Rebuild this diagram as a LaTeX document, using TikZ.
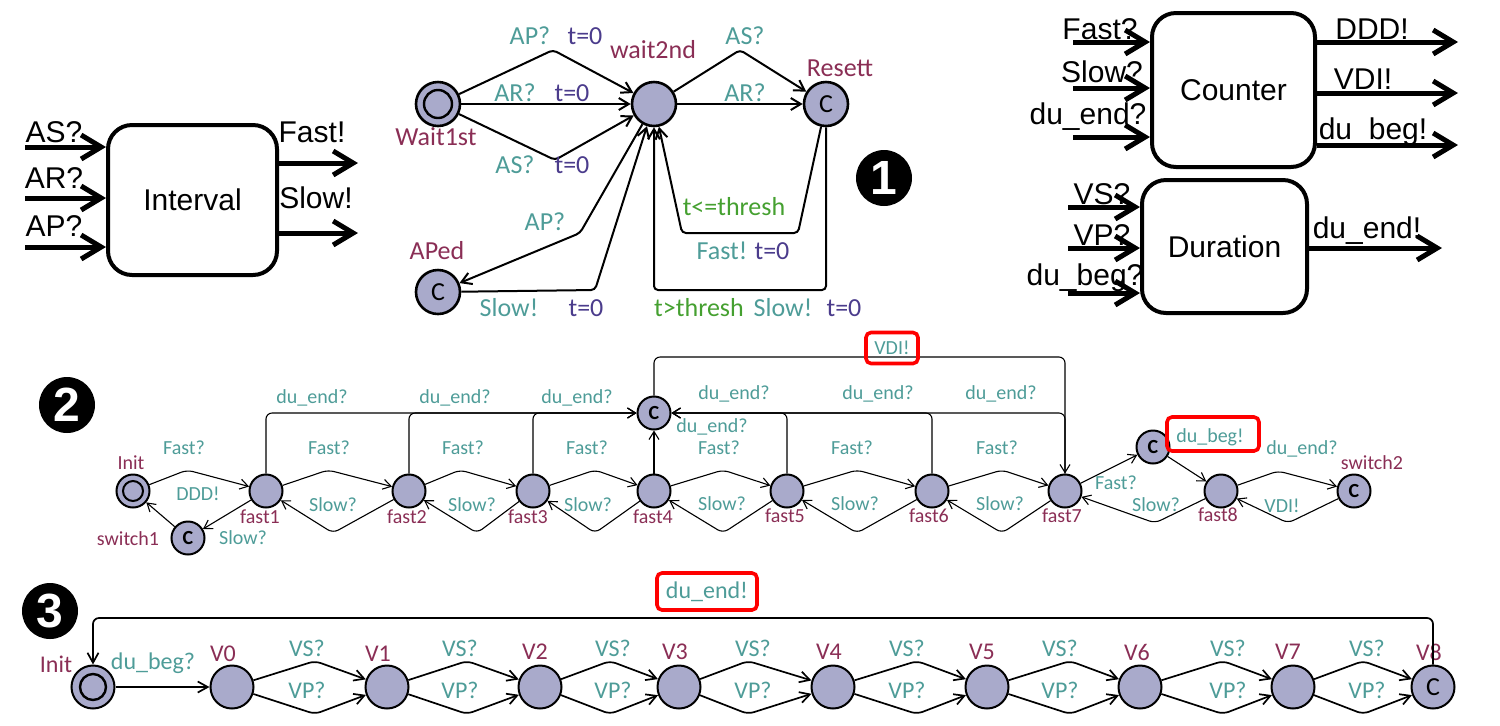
\documentclass[tikz,border=0pt]{standalone}
\usepackage{fontspec}
\setmainfont{Liberation Sans}
\newfontfamily\up{Carlito}
\usetikzlibrary{arrows.meta}
\definecolor{cLoc}{HTML}{A9AACB}
\definecolor{cName}{HTML}{8A2E55}
\definecolor{cSync}{HTML}{4E9C98}
\definecolor{cAssign}{HTML}{4B3C8C}
\definecolor{cGuard}{HTML}{45A030}
\definecolor{cRed}{HTML}{FF0000}
\begin{document}
\begin{tikzpicture}[x=0.5pt,y=-0.5pt,
  blk/.style={draw, line width=2pt, rounded corners=12pt, inner sep=0pt, font=\fontsize{15}{15}\selectfont},
  blkt/.style={font=\fontsize{15}{15}\selectfont, inner sep=0pt},
  barr/.style={line width=2.5pt, -{Straight Barb[length=10pt,width=12pt]}},
  numc/.style={circle, fill=black, minimum size=28pt, inner sep=0pt, text=white, font=\bfseries\fontsize{24}{24}\selectfont},
  loc1/.style={circle, draw, fill=cLoc, line width=1.3pt, minimum size=22pt, inner sep=0pt, font=\up\fontsize{13}{13}\selectfont},
  ini1/.style={loc1, path picture={\draw[line width=1.2pt] (path picture bounding box.center) circle (7pt);}},
  loc2/.style={circle, draw, fill=cLoc, line width=1pt, minimum size=16.5pt, inner sep=0pt, font=\up\bfseries\fontsize{10}{10}\selectfont},
  ini2/.style={loc2, path picture={\draw[line width=1pt] (path picture bounding box.center) circle (5pt);}},
  loc3/.style={circle, draw, fill=cLoc, line width=1pt, minimum size=21.5pt, inner sep=0pt, font=\up\fontsize{13}{13}\selectfont},
  ini3/.style={loc3, path picture={\draw[line width=1.2pt] (path picture bounding box.center) circle (6.5pt);}},
  e1/.style={line width=1pt, rounded corners=2pt, -{Straight Barb[length=5pt,width=6pt]}},
  e2/.style={line width=0.55pt, rounded corners=3pt, -{Straight Barb[length=4pt,width=5pt]}},
  e3/.style={line width=0.85pt, rounded corners=3pt, -{Straight Barb[length=5pt,width=5.5pt]}},
  l1/.style={font=\up\fontsize{13}{13}\selectfont, inner sep=0pt},
  l2/.style={font=\up\fontsize{10}{10}\selectfont, inner sep=0pt},
  l3/.style={font=\up\fontsize{12}{12}\selectfont, inner sep=0pt},
  sy/.style={text=cSync}, nm/.style={text=cName}, asg/.style={text=cAssign}, gd/.style={text=cGuard},
  redbox/.style={draw=cRed, line width=1.8pt, rounded corners=2.5pt, inner sep=0pt}
]
\useasboundingbox (0,0) rectangle (1500,725);

% ================= Block: Interval =================
\node[blk, minimum width=84.5pt, minimum height=75pt] (ib) at (192.5,200) {Interval};
\node[blkt] (ibl1) at (54,132) {AS?};
\node[blkt] (ibl2) at (54,178) {AR?};
\node[blkt] (ibl3) at (54,226) {AP?};
\node[blkt] (ibl4) at (312,132) {Fast!};
\node[blkt] (ibl5) at (316,198) {Slow!};
\coordinate (ia1) at (25,147);
\coordinate (ia2) at (25,198);
\coordinate (ia3) at (25,247);
\coordinate (io1) at (358,163);
\coordinate (io2) at (358,233);
\draw[barr] (ia1) -- (ia1 -| ib.west);
\draw[barr] (ia2) -- (ia2 -| ib.west);
\draw[barr] (ia3) -- (ia3 -| ib.west);
\draw[barr] (io1 -| ib.east) -- (io1);
\draw[barr] (io2 -| ib.east) -- (io2);

% ================= Block: Counter =================
\node[blk, minimum width=81.5pt, minimum height=77pt] (cb) at (1233.5,90) {Counter};
\node[blkt] (cbl1) at (1100,29) {Fast?};
\node[blkt] (cbl2) at (1102,72) {Slow?};
\node[blkt] (cbl3) at (1088,117) {du\_end?};
\node[blkt] (cbl4) at (1372,29) {DDD!};
\node[blkt] (cbl5) at (1363,79) {VDI!};
\node[blkt] (cbl6) at (1373,132) {du\_beg!};
\coordinate (ca1) at (1073,42);
\coordinate (ca2) at (1073,88);
\coordinate (ca3) at (1073,137);
\coordinate (co1) at (1458,42);
\coordinate (co2) at (1458,93);
\coordinate (co3) at (1458,145);
\draw[barr] (ca1) -- (ca1 -| cb.west);
\draw[barr] (ca2) -- (ca2 -| cb.west);
\draw[barr] (ca3) -- (ca3 -| cb.west);
\draw[barr] (co1 -| cb.east) -- (co1);
\draw[barr] (co2 -| cb.east) -- (co2);
\draw[barr] (co3 -| cb.east) -- (co3);

% ================= Block: Duration =================
\node[blk, minimum width=82.5pt, minimum height=66.5pt] (db) at (1224.5,246.5) {Duration};
\node[blkt] (dbl1) at (1102,194) {VS?};
\node[blkt] (dbl2) at (1102,235) {VP?};
\node[blkt] (dbl3) at (1085,278) {du\_beg?};
\node[blkt] (dbl4) at (1367,231) {du\_end!};
\coordinate (da1) at (1068,207);
\coordinate (da2) at (1068,248);
\coordinate (da3) at (1068,293);
\coordinate (do1) at (1442,248);
\draw[barr] (da1) -- (da1 -| db.west);
\draw[barr] (da2) -- (da2 -| db.west);
\draw[barr] (da3) -- (da3 -| db.west);
\draw[barr] (do1 -| db.east) -- (do1);

% ================= Numbers =================
\node[numc] (n1) at (884,178) {1};
\node[numc] (n2) at (67,405) {2};
\node[numc] (n3) at (50,611) {3};

% ================= Automaton 1 =================
\node[ini1] (w1) at (438,104) {};
\node[loc1] (w2) at (654,104) {};
\node[loc1] (res) at (826,104) {C};
\node[loc1] (aped) at (438,292) {C};
\node[l1,nm] (w1n) at (436,137) {Wait1st};
\node[l1,nm] (w2n) at (653,50) {wait2nd};
\node[l1,nm] (resn) at (840,68) {Resett};
\node[l1,nm] (apedn) at (437,251) {APed};

\draw[e1] (w1) -- (553,50) -- (w2);
\draw[e1] (w1) -- (w2);
\draw[e1] (w1) -- (555,160) -- (w2);
\draw[e1] (w2) -- (740,50) -- (res);
\draw[e1] (w2) -- (res);
\draw[e1] (res) -- (798,233) -- (682,233) -- (w2);
\draw[e1] (res) -- (826,290) -- (654,290) -- (w2);
\draw[e1] (w2) -- (580,233) -- (aped);
\draw[e1] (aped) -- (595,290) -- (w2);

\node[l1,sy] (a1) at (530,36) {AP?};
\node[l1,asg] (a2) at (585,36) {t=0};
\node[l1,sy] (a3) at (515,93) {AR?};
\node[l1,asg] (a4) at (572,93) {t=0};
\node[l1,sy] (a5) at (515,165) {AS?};
\node[l1,asg] (a6) at (572,165) {t=0};
\node[l1,sy] (a7) at (745,36) {AS?};
\node[l1,sy] (a8) at (745,93) {AR?};
\node[l1,gd] (a9) at (734,207) {t<=thresh};
\node[l1,sy] (a10) at (722,251) {Fast!};
\node[l1,asg] (a11) at (772,251) {t=0};
\node[l1,sy] (a12) at (545,222) {AP?};
\node[l1,sy] (a13) at (509,308) {Slow!};
\node[l1,asg] (a14) at (586,308) {t=0};
\node[l1,gd] (a15) at (699,308) {t>thresh};
\node[l1,sy] (a16) at (783,308) {Slow!};
\node[l1,asg] (a17) at (844,308) {t=0};

% ================= Automaton 2 =================
\node[ini2] (i2) at (133,491) {};
\node[loc2] (f1) at (266,491) {};
\node[loc2] (sw1) at (188,538) {C};
\node[loc2] (f2) at (409,491) {};
\node[loc2] (f3) at (533,491) {};
\node[loc2] (f4) at (654,491) {};
\node[loc2] (f5) at (787,491) {};
\node[loc2] (f6) at (932,491) {};
\node[loc2] (f7) at (1065,491) {};
\node[loc2] (cm) at (654,413) {C};
\node[loc2] (c2) at (1153,447) {C};
\node[loc2] (f8) at (1221,491) {};
\node[loc2] (sw2) at (1354,491) {C};

\node[l2,nm] (i2n) at (131,463) {Init};
\node[l2,nm] (f1n) at (260,517) {fast1};
\node[l2,nm] (sw1n) at (128,539) {switch1};
\node[l2,nm] (f2n) at (407,517) {fast2};
\node[l2,nm] (f3n) at (528,517) {fast3};
\node[l2,nm] (f4n) at (653,517) {fast4};
\node[l2,nm] (f5n) at (785,516) {fast5};
\node[l2,nm] (f6n) at (929,516) {fast6};
\node[l2,nm] (f7n) at (1062,516) {fast7};
\node[l2,nm] (f8n) at (1218,515) {fast8};
\node[l2,nm] (sw2n) at (1372,463) {switch2};

\draw[e2] (i2) -- (187,470) -- (f1);
\draw[e2] (f1) -- (sw1);
\draw[e2] (sw1) -- (i2);
\draw[e2] (f1) -- (328,470) -- (f2);
\draw[e2] (f2) -- (333,533) -- (f1);
\draw[e2] (f2) -- (460,470) -- (f3);
\draw[e2] (f3) -- (477,533) -- (f2);
\draw[e2] (f3) -- (595,470) -- (f4);
\draw[e2] (f4) -- (595,533) -- (f3);
\draw[e2] (f4) -- (723,470) -- (f5);
\draw[e2] (f5) -- (723,533) -- (f4);
\draw[e2] (f5) -- (857,470) -- (f6);
\draw[e2] (f6) -- (857,533) -- (f5);
\draw[e2] (f6) -- (1002,470) -- (f7);
\draw[e2] (f7) -- (1002,533) -- (f6);
\draw[e2] (f7) -- (c2);
\draw[e2] (c2) -- (f8);
\draw[e2] (f8) -- (1155,523) -- (f7);
\draw[e2] (f8) -- (1278,471) -- (sw2);
\draw[e2] (sw2) -- (1288,523) -- (f8);
\draw[e2] (f1) |- (cm);
\draw[e2] (f2) |- (cm);
\draw[e2] (f3) |- (cm);
\draw[e2] (f4) -- (cm);
\draw[e2] (f5) |- (cm);
\draw[e2] (f6) |- (cm);
\draw[e2] (f7) |- (cm);
\draw[e2] (cm) -- (654,357) -- (1065,357) -- (f7);

\node[l2,sy] (b1) at (184,448) {Fast?};
\node[l2,sy] (b2) at (243,538) {Slow?};
\node[l2,sy] (b3) at (198,494) {DDD!};
\node[l2,sy] (b4) at (329,448) {Fast?};
\node[l2,sy] (b5) at (333,505) {Slow?};
\node[l2,sy] (b6) at (463,448) {Fast?};
\node[l2,sy] (b7) at (472,505) {Slow?};
\node[l2,sy] (b8) at (587,448) {Fast?};
\node[l2,sy] (b9) at (588,505) {Slow?};
\node[l2,sy] (b10) at (719,448) {Fast?};
\node[l2,sy] (b11) at (722,504) {Slow?};
\node[l2,sy] (b12) at (852,448) {Fast?};
\node[l2,sy] (b13) at (855,504) {Slow?};
\node[l2,sy] (b14) at (997,448) {Fast?};
\node[l2,sy] (b15) at (1000,504) {Slow?};
\node[l2,sy] (b16) at (1116,483) {Fast?};
\node[l2,sy] (b17) at (1156,505) {Slow?};
\node[l2,sy] (b18) at (1302,449) {du\_end?};
\node[l2,sy] (b19) at (1282,506) {VDI!};
\node[l2,sy] (b20) at (312,398) {du\_end?};
\node[l2,sy] (b21) at (455,398) {du\_end?};
\node[l2,sy] (b22) at (577,398) {du\_end?};
\node[l2,sy] (b23) at (712,427) {du\_end?};
\node[l2,sy] (b24) at (734,394) {du\_end?};
\node[l2,sy] (b25) at (878,394) {du\_end?};
\node[l2,sy] (b26) at (1001,394) {du\_end?};
\node[l2,sy] (b27) at (892,348) {VDI!};
\node[l2,sy] (b28) at (1210,437) {du\_beg!};
\node[redbox, minimum width=26pt, minimum height=15.5pt] (rb1) at (892,348) {};
\node[redbox, minimum width=46pt, minimum height=17pt] (rb2) at (1213,434) {};

% ================= Automaton 3 =================
\node[ini3] (i3) at (93,687) {};
\node[loc3] (v0) at (232,687) {};
\node[loc3] (v1) at (387,687) {};
\node[loc3] (v2) at (540,687) {};
\node[loc3] (v3) at (679,687) {};
\node[loc3] (v4) at (833,687) {};
\node[loc3] (v5) at (987,687) {};
\node[loc3] (v6) at (1140,687) {};
\node[loc3] (v7) at (1293,687) {};
\node[loc3] (v8) at (1433,687) {C};

\node[l3,nm] (i3n) at (56,664) {Init};
\node[l3,nm] (v0n) at (223,654) {V0};
\node[l3,nm] (v1n) at (378,654) {V1};
\node[l3,nm] (v2n) at (535,652) {V2};
\node[l3,nm] (v3n) at (675,652) {V3};
\node[l3,nm] (v4n) at (829,652) {V4};
\node[l3,nm] (v5n) at (982,652) {V5};
\node[l3,nm] (v6n) at (1137,652) {V6};
\node[l3,nm] (v7n) at (1288,652) {V7};
\node[l3,nm] (v8n) at (1429,652) {V8};

\draw[e3] (i3) -- (v0);
\draw[e3] (v0) -- (315,661) -- (v1);
\draw[e3] (v0) -- (315,714) -- (v1);
\draw[e3] (v1) -- (467,661) -- (v2);
\draw[e3] (v1) -- (467,714) -- (v2);
\draw[e3] (v2) -- (610,661) -- (v3);
\draw[e3] (v2) -- (610,714) -- (v3);
\draw[e3] (v3) -- (748,661) -- (v4);
\draw[e3] (v3) -- (748,714) -- (v4);
\draw[e3] (v4) -- (917,661) -- (v5);
\draw[e3] (v4) -- (917,714) -- (v5);
\draw[e3] (v5) -- (1070,661) -- (v6);
\draw[e3] (v5) -- (1070,714) -- (v6);
\draw[e3] (v6) -- (1223,661) -- (v7);
\draw[e3] (v6) -- (1223,714) -- (v7);
\draw[e3] (v7) -- (1363,661) -- (v8);
\draw[e3] (v7) -- (1363,714) -- (v8);
\draw[e3] (v8) -- (1433,618) -- (93,618) -- (i3);

\node[l3,sy] (c1) at (153,663) {du\_beg?};
\node[l3,sy] (c2s) at (307,648) {VS?};
\node[l3,sy] (c2p) at (307,690) {VP?};
\node[l3,sy] (c3s) at (460,648) {VS?};
\node[l3,sy] (c3p) at (460,690) {VP?};
\node[l3,sy] (c4s) at (613,648) {VS?};
\node[l3,sy] (c4p) at (613,690) {VP?};
\node[l3,sy] (c5s) at (753,648) {VS?};
\node[l3,sy] (c5p) at (753,690) {VP?};
\node[l3,sy] (c6s) at (907,648) {VS?};
\node[l3,sy] (c6p) at (907,690) {VP?};
\node[l3,sy] (c7s) at (1060,648) {VS?};
\node[l3,sy] (c7p) at (1060,690) {VP?};
\node[l3,sy] (c8s) at (1228,648) {VS?};
\node[l3,sy] (c8p) at (1228,690) {VP?};
\node[l3,sy] (c9s) at (1367,648) {VS?};
\node[l3,sy] (c9p) at (1367,690) {VP?};
\node[l3,sy] (c10) at (707,592) {du\_end!};
\node[redbox, minimum width=50pt, minimum height=18.5pt] (rb3) at (707,591.5) {};
\end{tikzpicture}
\end{document}
